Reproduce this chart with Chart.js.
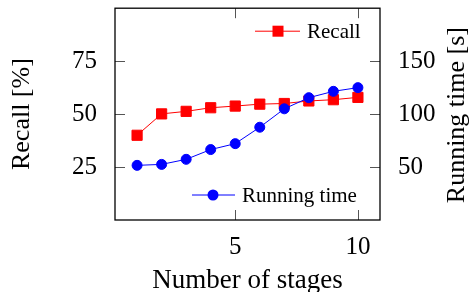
<!DOCTYPE html>
<html><head><meta charset="utf-8">
<script src="https://cdn.jsdelivr.net/npm/chart.js@4"></script>
<style>html,body{margin:0;padding:0;background:#fff;} canvas{display:block}</style>
</head><body>
<canvas id="c" width="471" height="292"></canvas>
<script>
const stages = [1, 2, 3, 4, 5, 6, 7, 8, 9, 10];
const recall = [40, 50.1, 51.3, 53, 53.8, 54.7, 55, 56.2, 56.8, 57.9];
const runningTime = [51.6, 52.5, 57.3, 66.5, 72.1, 87.6, 105, 115.5, 121.5, 125];
const xTicks = [5, 10];
const recallTicks = [25, 50, 75];
const timeTicks = [50, 100, 150];
const xLabel = 'Number of stages';
const yLabelLeft = 'Recall [%]';
const yLabelRight = 'Running time [s]';
const seriesNames = ['Recall', 'Running time'];

const SERIF = '"Liberation Serif", "DejaVu Serif", serif';
const RED = 'rgb(255,0,0)';
const BLUE = 'rgb(0,0,255)';

function fixBox(w, h) {
  return function (scale) {
    if (w != null) scale.width = w;
    if (h != null) scale.height = h;
    scale.paddingTop = 0; scale.paddingBottom = 0;
    scale.paddingLeft = 0; scale.paddingRight = 0;
  };
}
function setTicks(vals) {
  return function (scale) { scale.ticks = vals.map(v => ({ value: v })); };
}

const decorPlugin = {
  id: 'decor',
  beforeDatasetsDraw(chart) {
    const ctx = chart.ctx, ca = chart.chartArea;
    const sx = chart.scales.x, yl = chart.scales.y, yr = chart.scales.y2;
    const tl = 10;
    ctx.save();
    ctx.strokeStyle = '#555';
    ctx.lineWidth = 1;
    ctx.beginPath();
    yl.ticks.forEach(t => { const y = Math.round(yl.getPixelForValue(t.value)) + 0.5; ctx.moveTo(ca.left, y); ctx.lineTo(ca.left + tl, y); });
    yr.ticks.forEach(t => { const y = Math.round(yr.getPixelForValue(t.value)) + 0.5; ctx.moveTo(ca.right, y); ctx.lineTo(ca.right - tl, y); });
    sx.ticks.forEach(t => { const x = Math.round(sx.getPixelForValue(t.value)) + 0.5; ctx.moveTo(x, ca.bottom); ctx.lineTo(x, ca.bottom - tl); ctx.moveTo(x, ca.top); ctx.lineTo(x, ca.top + tl); });
    ctx.stroke();
    ctx.strokeStyle = '#000';
    ctx.lineWidth = 1.3;
    ctx.strokeRect(ca.left, ca.top, ca.right - ca.left, ca.bottom - ca.top);
    ctx.restore();
  },
  afterDraw(chart) {
    const ctx = chart.ctx, ca = chart.chartArea;
    ctx.save();
    // right axis title, reading bottom to top
    ctx.font = '26px ' + SERIF;
    ctx.fillStyle = '#000';
    ctx.textAlign = 'center';
    ctx.textBaseline = 'alphabetic';
    ctx.translate(464, (ca.top + ca.bottom) / 2 + 1);
    ctx.rotate(-Math.PI / 2);
    ctx.fillText(yLabelRight, 0, 0);
    ctx.setTransform(1, 0, 0, 1, 0, 0);

    // legends
    ctx.font = '21px ' + SERIF;
    ctx.textAlign = 'left';
    ctx.lineWidth = 1;
    // Recall legend (top right)
    let y = ca.top + 23;
    ctx.strokeStyle = RED; ctx.fillStyle = RED;
    ctx.beginPath(); ctx.moveTo(ca.right - 125, y); ctx.lineTo(ca.right - 80, y); ctx.stroke();
    ctx.fillRect(ca.right - 102 - 5.5, y - 5.5, 11, 11);
    ctx.fillStyle = '#000';
    ctx.fillText(seriesNames[0], ca.right - 73, ca.top + 30);
    // Running time legend (bottom right)
    y = ca.bottom - 25;
    ctx.strokeStyle = BLUE; ctx.fillStyle = BLUE;
    ctx.beginPath(); ctx.moveTo(ca.right - 188, y); ctx.lineTo(ca.right - 145, y); ctx.stroke();
    ctx.beginPath(); ctx.arc(ca.right - 167, y, 5.5, 0, Math.PI * 2); ctx.fill();
    ctx.fillStyle = '#000';
    ctx.fillText(seriesNames[1], ca.right - 138, ca.bottom - 18);
    ctx.restore();
  }
};

new Chart(document.getElementById('c'), {
  type: 'line',
  data: {
    datasets: [
      {
        label: seriesNames[0],
        data: stages.map((s, i) => ({ x: s, y: recall[i] })),
        yAxisID: 'y',
        borderColor: RED, backgroundColor: RED,
        borderWidth: 1,
        pointStyle: 'rect', pointRadius: 7.2, pointBorderWidth: 1,
        pointBackgroundColor: RED, pointBorderColor: RED,
        order: 1
      },
      {
        label: seriesNames[1],
        data: stages.map((s, i) => ({ x: s, y: runningTime[i] })),
        yAxisID: 'y2',
        borderColor: BLUE, backgroundColor: BLUE,
        borderWidth: 1,
        pointStyle: 'circle', pointRadius: 5, pointBorderWidth: 1,
        pointBackgroundColor: BLUE, pointBorderColor: BLUE,
        order: 0
      }
    ]
  },
  options: {
    responsive: false,
    animation: false,
    devicePixelRatio: 1,
    layout: { padding: { top: 8, left: 0, right: 0, bottom: 0 } },
    plugins: { legend: { display: false }, tooltip: { enabled: false } },
    scales: {
      x: {
        type: 'linear', position: 'bottom', min: 0.1, max: 10.9,
        afterBuildTicks: setTicks(xTicks),
        afterFit: fixBox(null, 72),
        grid: { display: false }, border: { display: false },
        ticks: { color: '#000', font: { family: SERIF, size: 25 }, padding: 4, maxRotation: 0 },
        title: { display: true, text: xLabel, color: '#000', font: { family: SERIF, size: 27, lineHeight: 0.8 }, padding: { top: 0, bottom: 0 } }
      },
      y: {
        type: 'linear', position: 'left', min: 0, max: 100,
        afterBuildTicks: setTicks(recallTicks),
        afterFit: fixBox(115, null),
        grid: { display: false }, border: { display: false },
        ticks: { color: '#000', font: { family: SERIF, size: 25 }, padding: 10 },
        title: { display: true, text: yLabelLeft, color: '#000', font: { family: SERIF, size: 26, lineHeight: 1 }, padding: { top: 9, bottom: 0 } }
      },
      y2: {
        type: 'linear', position: 'right', min: 0, max: 200,
        afterBuildTicks: setTicks(timeTicks),
        afterFit: fixBox(91, null),
        grid: { display: false }, border: { display: false },
        ticks: { color: '#000', font: { family: SERIF, size: 25 }, padding: 10 }
      }
    }
  },
  plugins: [decorPlugin]
});
</script>
</body></html>
